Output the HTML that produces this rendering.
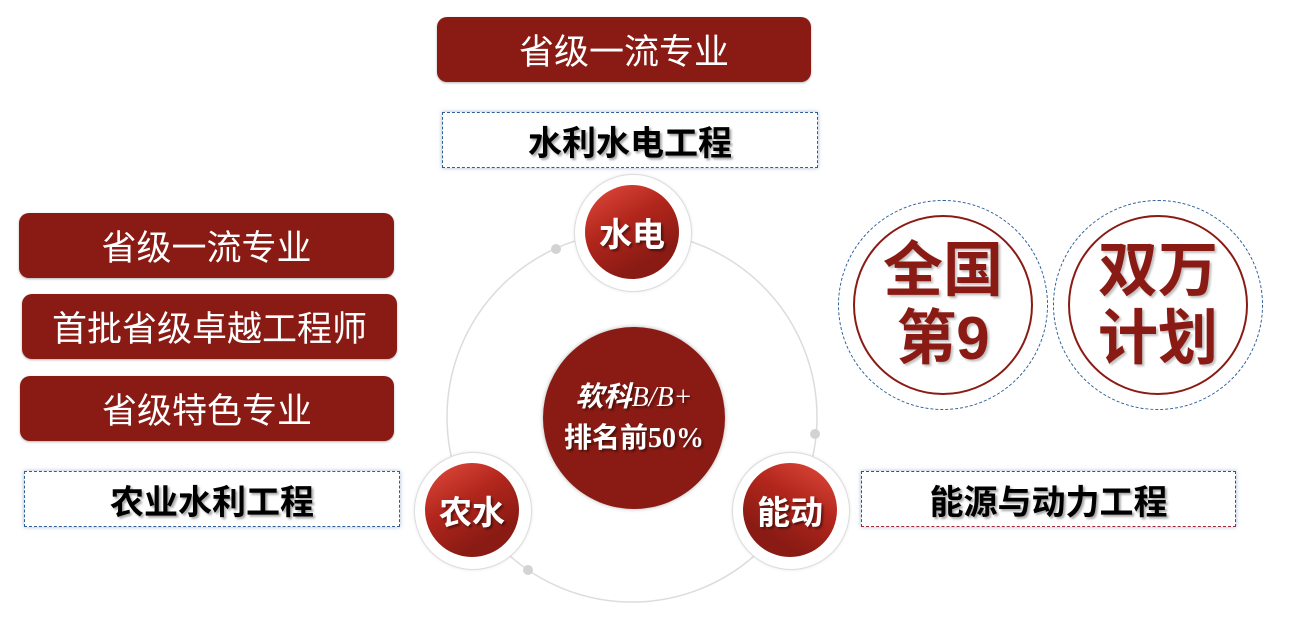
<!DOCTYPE html>
<html><head><meta charset="utf-8"><style>
body{margin:0;width:1300px;height:619px;background:#fff;position:relative;overflow:hidden;font-family:"Liberation Sans","Noto Sans CJK SC",sans-serif}
.r{position:absolute;background:#8a1b14;border-radius:10px;color:#fff;font-size:35px;display:flex;align-items:center;justify-content:center;box-shadow:0 1px 2px rgba(0,0,0,.3)}
.w{position:absolute;background:#fff;border:1.5px dashed #2f5f98;color:#000;font-size:34px;font-weight:bold;display:flex;align-items:center;justify-content:center;box-sizing:border-box;box-shadow:0 0 4px rgba(80,120,170,.5);text-shadow:2px 2px 2px rgba(0,0,0,.35)}
.c{position:absolute;border-radius:50%;display:flex;align-items:center;justify-content:center;color:#fff;font-weight:bold;font-size:33px;text-shadow:2px 2px 2px rgba(0,0,0,.45)}
.ring{position:absolute;border-radius:50%;border:1px solid #ddd;background:#fff;box-shadow:0 0 3px rgba(0,0,0,.1)}
.g{background:linear-gradient(150deg,#e24c3e 0%,#b2261c 40%,#8a1b14 75%)}
.dot{position:absolute;width:10px;height:10px;border-radius:50%;background:#d3d3d3}
.big{position:absolute;border-radius:50%;border:2px solid #8a1b14;box-sizing:border-box;color:#8a1b14;font-weight:bold;font-size:60px;line-height:68px;text-align:center;display:flex;align-items:center;justify-content:center;text-shadow:2px 2px 2px rgba(0,0,0,.25)}
.od{position:absolute;border-radius:50%;border:1.5px dashed #2f5f98;box-sizing:border-box}
</style></head><body>
<div class="r" style="left:437px;top:17px;width:374px;height:65px">省级一流专业</div>
<div class="w" style="left:442px;top:112px;width:376px;height:56px">水利水电工程</div>
<div class="r" style="left:19px;top:213px;width:375px;height:65px">省级一流专业</div>
<div class="r" style="left:22px;top:294px;width:375px;height:65px">首批省级卓越工程师</div>
<div class="r" style="left:20px;top:376px;width:374px;height:65px">省级特色专业</div>
<div class="w" style="left:24px;top:471px;width:376px;height:56px">农业水利工程</div>
<div class="w" style="left:861px;top:471px;width:375px;height:56px;border-color:#a0283a">能源与动力工程</div>

<svg style="position:absolute;left:0;top:0" width="1300" height="619">
<circle cx="632" cy="417" r="185" fill="none" stroke="#dcdcdc" stroke-width="1.5"/>
</svg>
<div class="dot" style="left:551px;top:244px"></div>
<div class="dot" style="left:810px;top:429px"></div>
<div class="dot" style="left:523px;top:565px"></div>

<div class="ring" style="left:574px;top:174px;width:116px;height:116px"></div>
<div class="ring" style="left:414px;top:452px;width:116px;height:116px"></div>
<div class="ring" style="left:732px;top:452px;width:116px;height:116px"></div>
<div class="c g" style="left:585px;top:185px;width:94px;height:94px">水电</div>
<div class="c g" style="left:425px;top:463px;width:94px;height:94px">农水</div>
<div class="c g" style="left:743px;top:463px;width:94px;height:94px;background:linear-gradient(210deg,#e24c3e 0%,#b2261c 40%,#8a1b14 75%)">能动</div>

<div class="c" style="left:543px;top:327px;width:182px;height:182px;background:#8a1b14;flex-direction:column;font-size:28px;line-height:40px;box-shadow:0 0 4px rgba(0,0,0,.3)">
<div><i>软科</i><i style="font-family:'Liberation Serif',serif;font-weight:normal">B/B+</i></div>
<div>排名前<span style="font-family:'Liberation Serif',serif">50%</span></div></div>

<div class="od" style="left:838px;top:200px;width:210px;height:210px"></div>
<div class="big" style="left:853px;top:215px;width:180px;height:180px">全国<br>第9</div>
<div class="od" style="left:1053px;top:200px;width:210px;height:210px"></div>
<div class="big" style="left:1068px;top:215px;width:180px;height:180px">双万<br>计划</div>
</body></html>
